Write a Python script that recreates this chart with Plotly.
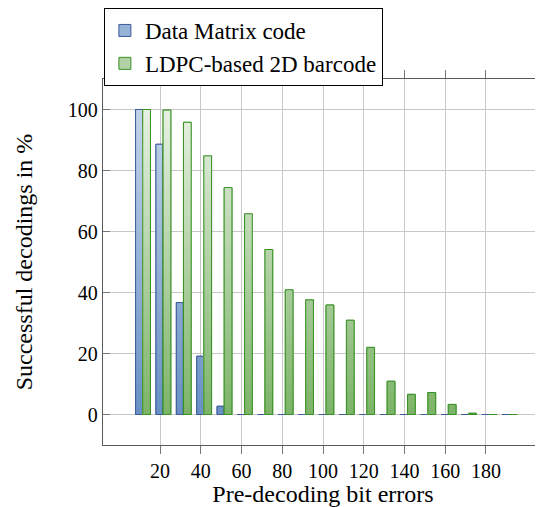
import plotly.graph_objects as go
import numpy as np

bit_errors = [10, 20, 30, 40, 50, 60, 70, 80, 90, 100, 110, 120, 130, 140, 150, 160, 170, 180, 190]
datamatrix = [100, 88.6, 36.7, 19.1, 2.7, 0, 0, 0, 0, 0, 0, 0, 0, 0, 0, 0, 0, 0, 0]
ldpc = [100, 99.8, 95.8, 84.8, 74.4, 65.8, 54.1, 40.9, 37.6, 35.9, 30.9, 22.0, 10.9, 6.6, 7.2, 3.3, 0.4, 0, 0]
x_ticks = [20, 40, 60, 80, 100, 120, 140, 160, 180]
y_ticks = [0, 20, 40, 60, 80, 100]

series = [
    dict(name="Data Matrix code", values=datamatrix, offset=-2.0, width=3.4,
         bottom=(105, 145, 197), top=(196, 212, 234), line="rgb(60,90,155)"),
    dict(name="LDPC-based 2D barcode", values=ldpc, offset=1.5, width=3.8,
         bottom=(125, 180, 105), top=(232, 241, 227), line="rgb(55,145,35)"),
]

FONT = "Liberation Serif"
fig = go.Figure()
levels = np.arange(100, 0, -2.5)

for s in series:
    vals = np.array(s["values"], dtype=float)
    b = np.array(s["bottom"]); t = np.array(s["top"])
    mid = (b + t) / 2
    # legend / base trace
    fig.add_trace(go.Bar(
        x=bit_errors, y=vals, name=s["name"], offset=s["offset"], width=s["width"],
        marker=dict(color="rgb(%d,%d,%d)" % tuple(mid.astype(int)),
                    line=dict(color=s["line"], width=1)),
        showlegend=True, hoverinfo="skip"))
    # gradient bands (absolute along y)
    for lv in levels:
        frac = (lv - 1.25) / 100.0
        c = b + (t - b) * frac
        fig.add_trace(go.Bar(
            x=bit_errors, y=np.minimum(vals, lv), offset=s["offset"], width=s["width"],
            marker=dict(color="rgb(%d,%d,%d)" % tuple(c.astype(int)), line=dict(width=0)),
            showlegend=False, hoverinfo="skip"))
    # outline
    fig.add_trace(go.Bar(
        x=bit_errors, y=vals, offset=s["offset"], width=s["width"],
        marker=dict(color="rgba(0,0,0,0)", line=dict(color=s["line"], width=1)),
        showlegend=False, hoverinfo="skip"))

fig.update_layout(
    width=535, height=499,
    margin=dict(l=95, r=0, t=71, b=62, autoexpand=False),
    barmode="overlay",
    plot_bgcolor="white", paper_bgcolor="white",
    font=dict(family=FONT, size=20, color="black"),
    legend=dict(x=0.002, y=1.194, xanchor="left", yanchor="top",
                bordercolor="black", borderwidth=1, bgcolor="white",
                font=dict(family=FONT, size=23), tracegroupgap=0,
                itemwidth=30),
    xaxis=dict(range=[-8, 208], tickvals=x_ticks, ticks="outside", ticklen=8,
               tickcolor="rgb(120,120,120)", showgrid=True, gridcolor="rgb(200,200,200)",
               gridwidth=1, showline=True, linecolor="rgb(90,90,90)", linewidth=1.3,
               mirror="allticks", zeroline=False, automargin=False,
               title=dict(text="Pre-decoding bit errors", standoff=2),
               tickfont=dict(size=20)),
    yaxis=dict(range=[-10, 110], tickvals=y_ticks, ticks="inside", ticklen=7,
               tickcolor="rgb(120,120,120)", showgrid=True, gridcolor="rgb(200,200,200)",
               gridwidth=1, showline=True, linecolor="rgb(90,90,90)", linewidth=1.3,
               mirror="allticks", zeroline=False, automargin=False,
               title=dict(text="Successful decodings in %", standoff=28),
               tickfont=dict(size=20)),
)

fig.write_html("out.html")
